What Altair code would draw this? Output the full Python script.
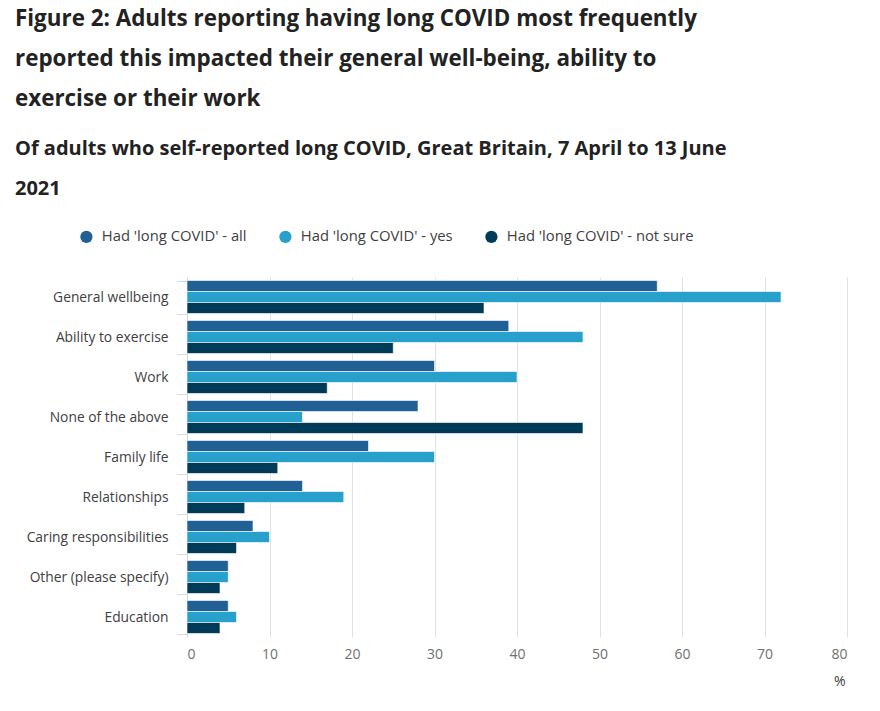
import altair as alt
import pandas as pd

categories = ["General wellbeing", "Ability to exercise", "Work", "None of the above",
              "Family life", "Relationships", "Caring responsibilities",
              "Other (please specify)", "Education"]
series = ["Had 'long COVID' - all", "Had 'long COVID' - yes", "Had 'long COVID' - not sure"]
vals_all = [57, 39, 30, 28, 22, 14, 8, 5, 5]
vals_yes = [72, 48, 40, 14, 30, 19, 10, 5, 6]
vals_notsure = [36, 25, 17, 48, 11, 7, 6, 4, 4]
colors = ["#206095", "#27a0cc", "#003c57"]
x_ticks = [0, 10, 20, 30, 40, 50, 60, 70, 80]

rows = []
for s, vals in zip(series, [vals_all, vals_yes, vals_notsure]):
    for c, v in zip(categories, vals):
        rows.append({"category": c, "series": s, "value": v})
df = pd.DataFrame(rows)

FONT = "Open Sans"

chart = alt.Chart(df).mark_bar(stroke="white", strokeWidth=0.6).encode(
    y=alt.Y("category:N", sort=categories,
            scale=alt.Scale(paddingInner=0.175, paddingOuter=0.0875),
            axis=alt.Axis(title=None, labelFont=FONT, labelFontSize=13.8, labelColor="#414042",
                          labelPadding=9, tickBand="extent", tickSize=10, tickColor="#d3d8ea",
                          domainColor="#d3d8ea", grid=False, labelLimit=300)),
    yOffset=alt.YOffset("series:N", sort=series, scale=alt.Scale(paddingInner=0, paddingOuter=0)),
    x=alt.X("value:Q", scale=alt.Scale(domain=[0, 80], nice=False),
            axis=alt.Axis(values=x_ticks, title="%", titleFont=FONT, titleFontSize=14,
                          titleFontWeight="normal", titleColor="#414042",
                          titleAnchor="end", titleAlign="right", titleBaseline="middle",
                          titleX=658, titleY=44,
                          labelFont=FONT, labelFontSize=14, labelColor="#707071",
                          labelPadding=10, domain=False, ticks=False,
                          grid=True, gridColor="#e2e2e3", gridWidth=1)),
    color=alt.Color("series:N", sort=series,
                    scale=alt.Scale(domain=series, range=colors),
                    legend=alt.Legend(title=None, orient="none", direction="horizontal",
                                      legendX=-108, legendY=-48, symbolType="circle",
                                      symbolSize=150, symbolStrokeWidth=0,
                                      labelFont=FONT, labelFontSize=14.8, labelColor="#414042",
                                      columnPadding=31, labelOffset=8, labelLimit=400)),
).properties(
    width=660, height=360,
    title=alt.TitleParams(
        text=["Figure 2: Adults reporting having long COVID most frequently",
              "reported this impacted their general well-being, ability to",
              "exercise or their work"],
        subtitle=["Of adults who self-reported long COVID, Great Britain, 7 April to 13 June",
                  "2021"],
        anchor="start", frame="group", dx=-172, offset=30,
        font=FONT, fontSize=22.4, fontWeight="bold", color="#222222", lineHeight=40,
        subtitleFont=FONT, subtitleFontSize=20, subtitleFontWeight="bold",
        subtitleColor="#222222", subtitleLineHeight=40, subtitlePadding=29,
    ),
    autosize=alt.AutoSizeParams(type="none"),
    padding={"left": 179, "top": 269, "right": 20, "bottom": 60},
).configure_view(stroke=None)

chart.save("out.html", embed_options={"renderer": "svg", "actions": False})
